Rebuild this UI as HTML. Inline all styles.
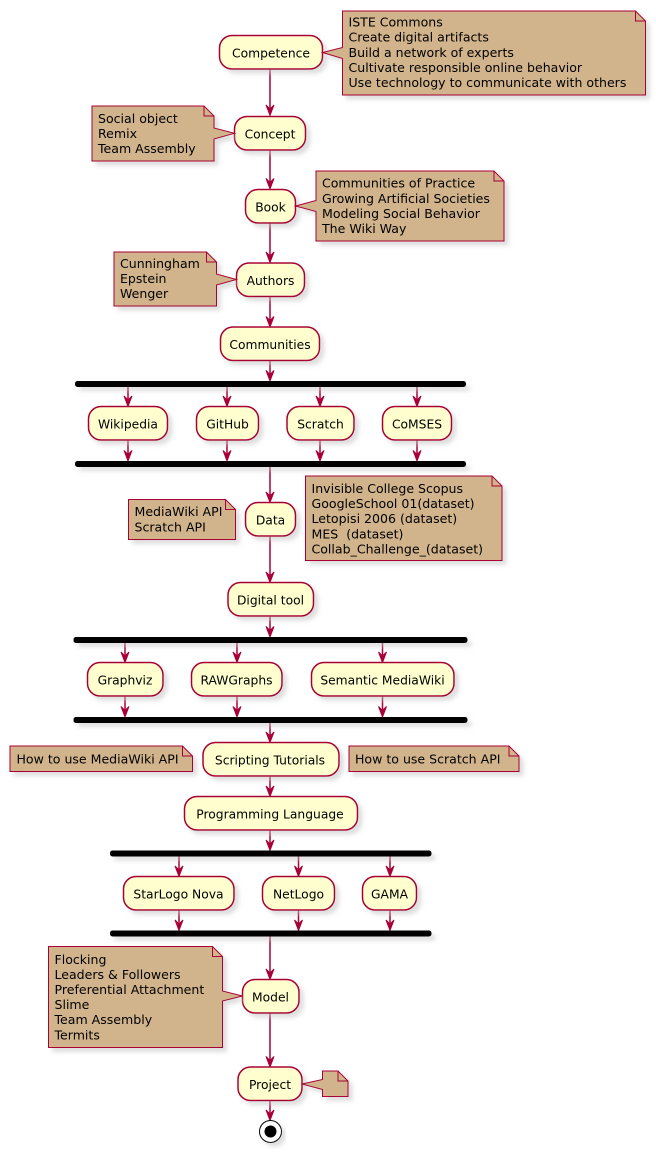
<!DOCTYPE html>
<html><head><meta charset="utf-8"><style>
html,body{margin:0;padding:0;background:#fff;}
svg{display:block;}
.a{fill:#FEFECE;stroke:#A80036;stroke-width:1.5;}
.n{fill:#D2B48C;stroke:#A80036;stroke-width:1;}
.f{fill:none;stroke:#A80036;stroke-width:1;}
.l{stroke:#A80036;stroke-width:1.5;fill:none;}
.h{fill:#A80036;stroke:#A80036;stroke-width:1;}
.t{font-family:"DejaVu Sans","Liberation Sans",sans-serif;font-size:12.3px;fill:#000;text-anchor:middle;}
.nt{font-family:"DejaVu Sans","Liberation Sans",sans-serif;font-size:12.55px;fill:#000;}
</style></head><body>
<svg width="656" height="1153" viewBox="0 0 656 1153" xmlns="http://www.w3.org/2000/svg">
<defs>
<filter id="s" x="-10%" y="-10%" width="130%" height="140%">
<feGaussianBlur in="SourceAlpha" stdDeviation="2" result="b"/>
<feColorMatrix in="b" type="matrix" values="0 0 0 0 0.55  0 0 0 0 0.55  0 0 0 0 0.55  0 0 0 0.55 0" result="c"/>
<feOffset in="c" dx="4" dy="4" result="o"/>
<feMerge><feMergeNode in="o"/><feMergeNode in="SourceGraphic"/></feMerge>
</filter>
</defs>

<!-- connectors -->
<g class="l">
<line x1="270" y1="69" x2="270" y2="114"/>
<line x1="270" y1="150.5" x2="270" y2="187"/>
<line x1="270" y1="223" x2="270" y2="261"/>
<line x1="270" y1="296.5" x2="270" y2="325"/>
<line x1="270" y1="360.5" x2="270" y2="380"/>
<line x1="128" y1="387" x2="128" y2="405"/>
<line x1="227" y1="387" x2="227" y2="405"/>
<line x1="320" y1="387" x2="320" y2="405"/>
<line x1="417" y1="387" x2="417" y2="405"/>
<line x1="128" y1="440" x2="128" y2="459"/>
<line x1="227" y1="440" x2="227" y2="459"/>
<line x1="320" y1="440" x2="320" y2="459"/>
<line x1="417" y1="440" x2="417" y2="459"/>
<line x1="270" y1="467" x2="270" y2="501"/>
<line x1="270" y1="536" x2="270" y2="581"/>
<line x1="270" y1="616" x2="270" y2="635"/>
<line x1="125" y1="643" x2="125" y2="661"/>
<line x1="237" y1="643" x2="237" y2="661"/>
<line x1="382.5" y1="643" x2="382.5" y2="661"/>
<line x1="125" y1="696" x2="125" y2="715"/>
<line x1="237" y1="696" x2="237" y2="715"/>
<line x1="382.5" y1="696" x2="382.5" y2="715"/>
<line x1="270" y1="723" x2="270" y2="741"/>
<line x1="270" y1="776" x2="270" y2="795"/>
<line x1="270" y1="830" x2="270" y2="849"/>
<line x1="179" y1="856" x2="179" y2="875"/>
<line x1="298.5" y1="856" x2="298.5" y2="875"/>
<line x1="390" y1="856" x2="390" y2="875"/>
<line x1="179" y1="910" x2="179" y2="929"/>
<line x1="298.5" y1="910" x2="298.5" y2="929"/>
<line x1="390" y1="910" x2="390" y2="929"/>
<line x1="270" y1="936.5" x2="270" y2="978"/>
<line x1="270" y1="1013" x2="270" y2="1066"/>
<line x1="270" y1="1100.5" x2="270" y2="1119"/>
</g>
<!-- arrowheads -->
<g class="h">
<polygon points="266,105 270,115.5 274,105 270,109"/>
<polygon points="266,178.5 270,189 274,178.5 270,182.5"/>
<polygon points="266,252 270,262.5 274,252 270,256"/>
<polygon points="266,316.5 270,327 274,316.5 270,320.5"/>
<polygon points="266,370.5 270,381 274,370.5 270,374.5"/>
<polygon points="124,396 128,406.5 132,396 128,400"/>
<polygon points="223,396 227,406.5 231,396 227,400"/>
<polygon points="316,396 320,406.5 324,396 320,400"/>
<polygon points="413,396 417,406.5 421,396 417,400"/>
<polygon points="124,450.5 128,461 132,450.5 128,454.5"/>
<polygon points="223,450.5 227,461 231,450.5 227,454.5"/>
<polygon points="316,450.5 320,461 324,450.5 320,454.5"/>
<polygon points="413,450.5 417,461 421,450.5 417,454.5"/>
<polygon points="266,492 270,502.5 274,492 270,496"/>
<polygon points="266,572 270,582.5 274,572 270,576"/>
<polygon points="266,626.5 270,637 274,626.5 270,630.5"/>
<polygon points="121,652 125,662.5 129,652 125,656"/>
<polygon points="233,652 237,662.5 241,652 237,656"/>
<polygon points="378.5,652 382.5,662.5 386.5,652 382.5,656"/>
<polygon points="121,706.5 125,717 129,706.5 125,710.5"/>
<polygon points="233,706.5 237,717 241,706.5 237,710.5"/>
<polygon points="378.5,706.5 382.5,717 386.5,706.5 382.5,710.5"/>
<polygon points="266,732 270,742.5 274,732 270,736"/>
<polygon points="266,786 270,796.5 274,786 270,790"/>
<polygon points="266,840 270,850.5 274,840 270,844"/>
<polygon points="175,866 179,876.5 183,866 179,870"/>
<polygon points="294.5,866 298.5,876.5 302.5,866 298.5,870"/>
<polygon points="386,866 390,876.5 394,866 390,870"/>
<polygon points="175,920 179,930.5 183,920 179,924"/>
<polygon points="294.5,920 298.5,930.5 302.5,920 298.5,924"/>
<polygon points="386,920 390,930.5 394,920 390,924"/>
<polygon points="266,969 270,979.5 274,969 270,973"/>
<polygon points="266,1056.5 270,1067 274,1056.5 270,1060.5"/>
<polygon points="266,1110 270,1120.5 274,1110 270,1114"/>
</g>

<!-- bars -->
<g fill="#000" filter="url(#s)">
<rect x="75" y="381" width="391" height="6" rx="2.5"/>
<rect x="75" y="461" width="391" height="6" rx="2.5"/>
<rect x="73.5" y="637" width="394" height="6" rx="2.5"/>
<rect x="73.5" y="717" width="394" height="6" rx="2.5"/>
<rect x="110" y="850.5" width="321.5" height="6" rx="2.5"/>
<rect x="110" y="930.5" width="321.5" height="6" rx="2.5"/>
</g>

<!-- activities -->
<g filter="url(#s)">
<rect class="a" x="219.5" y="35.5" width="103" height="33.5" rx="12.5"/>
<rect class="a" x="234.5" y="116.5" width="71" height="33.5" rx="12.5"/>
<rect class="a" x="245.5" y="189.5" width="50" height="33.5" rx="12.5"/>
<rect class="a" x="236.5" y="263" width="68" height="33.5" rx="12.5"/>
<rect class="a" x="220.5" y="327" width="99" height="33.5" rx="12.5"/>
<rect class="a" x="88.5" y="406.5" width="79" height="33.5" rx="12.5"/>
<rect class="a" x="196.5" y="406.5" width="62" height="33.5" rx="12.5"/>
<rect class="a" x="287" y="406.5" width="67" height="33.5" rx="12.5"/>
<rect class="a" x="382.5" y="406.5" width="69" height="33.5" rx="12.5"/>
<rect class="a" x="245.5" y="502.5" width="50" height="33.5" rx="12.5"/>
<rect class="a" x="228" y="582.5" width="85.5" height="33.5" rx="12.5"/>
<rect class="a" x="87.5" y="662.5" width="75.5" height="33.5" rx="12.5"/>
<rect class="a" x="191.5" y="662.5" width="90.5" height="33.5" rx="12.5"/>
<rect class="a" x="311.5" y="662.5" width="142.5" height="33.5" rx="12.5"/>
<rect class="a" x="203" y="742.5" width="136" height="33.5" rx="12.5"/>
<rect class="a" x="184.5" y="796.5" width="173" height="33.5" rx="12.5"/>
<rect class="a" x="123.5" y="876.5" width="110.5" height="33.5" rx="12.5"/>
<rect class="a" x="262.5" y="876.5" width="72" height="33.5" rx="12.5"/>
<rect class="a" x="362.5" y="876.5" width="54" height="33.5" rx="12.5"/>
<rect class="a" x="242.5" y="979.5" width="56.5" height="33.5" rx="12.5"/>
<rect class="a" x="238" y="1067" width="64" height="33.5" rx="12.5"/>
</g>
<g class="t">
<text x="271" y="57.5">Competence</text>
<text x="270" y="138.5">Concept</text>
<text x="270.5" y="211.5">Book</text>
<text x="270.5" y="285">Authors</text>
<text x="270" y="349">Communities</text>
<text x="128" y="428.5">Wikipedia</text>
<text x="227.5" y="428.5">GitHub</text>
<text x="320.5" y="428.5">Scratch</text>
<text x="417" y="428.5">CoMSES</text>
<text x="270.5" y="524.5">Data</text>
<text x="270.5" y="604.5">Digital tool</text>
<text x="125" y="684.5">Graphviz</text>
<text x="236.5" y="684.5">RAWGraphs</text>
<text x="382.5" y="684.5">Semantic MediaWiki</text>
<text x="270" y="764.5">Scripting Tutorials</text>
<text x="270" y="818.5">Programming Language</text>
<text x="178.5" y="898.5">StarLogo Nova</text>
<text x="298.5" y="898.5">NetLogo</text>
<text x="389.5" y="898.5">GAMA</text>
<text x="270.5" y="1001.5">Model</text>
<text x="270" y="1089">Project</text>
</g>

<!-- end -->
<g filter="url(#s)">
<circle cx="270.5" cy="1131.5" r="11" fill="#fff" stroke="#000" stroke-width="1"/>
</g>
<circle cx="270.5" cy="1131.5" r="6" fill="#000"/>

<!-- notes -->
<g filter="url(#s)">
<path class="n" d="M342.5,11 L635.5,11 L645.5,21 L645.5,95 L342.5,95 L342.5,58.5 L322.5,52.5 L342.5,47.5 Z"/>
<path class="n" d="M92,106 L204,106 L214,116 L214,128 L234.5,133.3 L214,139 L214,161 L92,161 Z"/>
<path class="n" d="M316,171 L494,171 L504,181 L504,241 L316,241 L316,211.5 L295.5,206 L316,200.5 Z"/>
<path class="n" d="M114,252 L206.5,252 L216.5,262 L216.5,274 L236.5,279.5 L216.5,285 L216.5,306 L114,306 Z"/>
<path class="n" d="M128.5,499.5 L225.5,499.5 L235.5,509.5 L235.5,539.5 L128.5,539.5 Z"/>
<path class="n" d="M305.5,476 L492,476 L502,486 L502,560.5 L305.5,560.5 Z"/>
<path class="n" d="M10,746 L182.5,746 L192.5,756 L192.5,771.5 L10,771.5 Z"/>
<path class="n" d="M349,746 L509,746 L519,756 L519,771.5 L349,771.5 Z"/>
<path class="n" d="M48.5,946.5 L212.5,946.5 L222.5,956.5 L222.5,991 L242.5,996 L222.5,1001 L222.5,1047.5 L48.5,1047.5 Z"/>
<path class="n" d="M322.5,1071 L338,1071 L348,1081 L348,1096.5 L322.5,1096.5 L322.5,1089.5 L302,1084 L322.5,1079.5 Z"/>
</g>
<g class="f">
<path d="M635.5,11 L635.5,21 L645.5,21"/>
<path d="M204,106 L204,116 L214,116"/>
<path d="M494,171 L494,181 L504,181"/>
<path d="M206.5,252 L206.5,262 L216.5,262"/>
<path d="M225.5,499.5 L225.5,509.5 L235.5,509.5"/>
<path d="M492,476 L492,486 L502,486"/>
<path d="M182.5,746 L182.5,756 L192.5,756"/>
<path d="M509,746 L509,756 L519,756"/>
<path d="M212.5,946.5 L212.5,956.5 L222.5,956.5"/>
<path d="M338,1071 L338,1081 L348,1081"/>
</g>
<g class="nt">
<text x="348.5" y="26.6">ISTE Commons</text>
<text x="348.5" y="41.7">Create digital artifacts</text>
<text x="348.5" y="56.8">Build a network of experts</text>
<text x="348.5" y="71.9">Cultivate responsible online behavior</text>
<text x="348.5" y="87">Use technology to communicate with others</text>

<text x="98" y="122.8">Social object</text>
<text x="98" y="137.9">Remix</text>
<text x="98" y="153">Team Assembly</text>

<text x="322" y="187.7">Communities of Practice</text>
<text x="322" y="202.8">Growing Artificial Societies</text>
<text x="322" y="217.9">Modeling Social Behavior</text>
<text x="322" y="233">The Wiki Way</text>

<text x="120" y="267.8">Cunningham</text>
<text x="120" y="282.9">Epstein</text>
<text x="120" y="298">Wenger</text>

<text x="134.5" y="516.2">MediaWiki API</text>
<text x="134.5" y="531.3">Scratch API</text>

<text x="311.5" y="493">Invisible College Scopus</text>
<text x="311.5" y="508.1">GoogleSchool 01(dataset)</text>
<text x="311.5" y="523.2">Letopisi 2006 (dataset)</text>
<text x="311.5" y="538.3" xml:space="preserve">MES  (dataset)</text>
<text x="311.5" y="553.4">Collab_Challenge_(dataset)</text>

<text x="16.5" y="763.6">How to use MediaWiki API</text>
<text x="355" y="763.6">How to use Scratch API</text>

<text x="54.5" y="963.8">Flocking</text>
<text x="54.5" y="978.9">Leaders &amp; Followers</text>
<text x="54.5" y="994">Preferential Attachment</text>
<text x="54.5" y="1009.1">Slime</text>
<text x="54.5" y="1024.2">Team Assembly</text>
<text x="54.5" y="1039.3">Termits</text>
</g>
</svg>
</body></html>
